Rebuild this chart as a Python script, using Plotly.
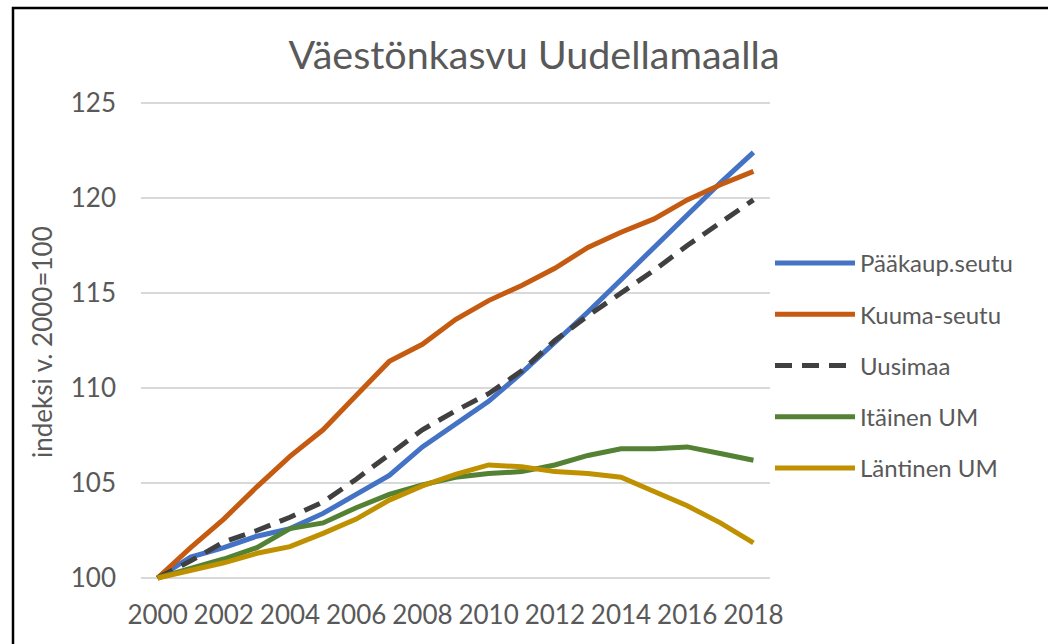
import plotly.graph_objects as go

years = list(range(2000, 2019))
paakaup = [100, 101.1, 101.6, 102.2, 102.6, 103.4, 104.4, 105.4, 106.9, 108.1,
           109.3, 110.8, 112.4, 114.0, 115.7, 117.4, 119.1, 120.8, 122.4]
kuuma = [100, 101.6, 103.1, 104.8, 106.4, 107.8, 109.6, 111.4, 112.3, 113.6,
         114.6, 115.4, 116.3, 117.4, 118.2, 118.9, 119.9, 120.7, 121.4]
uusimaa = [100, 100.9, 101.9, 102.5, 103.2, 104.0, 105.2, 106.5, 107.8, 108.8,
           109.7, 110.9, 112.5, 113.8, 115.0, 116.2, 117.5, 118.7, 119.9]
itainen = [100, 100.5, 101.0, 101.6, 102.6, 102.9, 103.7, 104.4, 104.9, 105.3,
           105.5, 105.6, 105.95, 106.45, 106.8, 106.8, 106.9, 106.55, 106.2]
lantinen = [100, 100.4, 100.8, 101.3, 101.65, 102.35, 103.1, 104.1, 104.85, 105.45,
            105.95, 105.85, 105.6, 105.5, 105.3, 104.55, 103.8, 102.9, 101.85]

series_names = ["Pääkaup.seutu", "Kuuma-seutu", "Uusimaa", "Itäinen UM", "Läntinen UM"]
series_values = [paakaup, kuuma, uusimaa, itainen, lantinen]
colors = ["#4472C4", "#C55A11", "#404040", "#548235", "#BF9000"]
dashes = ["solid", "solid", "17px,10px", "solid", "solid"]

x_ticks = list(range(2000, 2019, 2))
y_ticks = [100, 105, 110, 115, 120, 125]

title_text = "Väestönkasvu Uudellamaalla"
y_title = "indeksi v. 2000=100"

W, H = 1048, 644
L, R = 141, 770
T, B = 84, 597
FONT = "Lato, Calibri, Carlito, sans-serif"
GREY = "#595959"


def px_x(p):
    return (p - L) / (R - L)


def px_y(p):
    return (B - p) / (B - T)


fig = go.Figure()
for i, (name, vals) in enumerate(zip(series_names, series_values)):
    fig.add_trace(go.Scatter(
        x=years, y=vals, name=name, mode="lines",
        line=dict(color=colors[i], width=5, dash=dashes[i]),
        legendgroup=name,
    ))

fig.update_layout(
    width=W, height=H,
    margin=dict(l=L, r=W - R, t=T, b=H - B, pad=0),
    paper_bgcolor="white", plot_bgcolor="white",
    font=dict(family=FONT, color=GREY),
    title=dict(text=title_text, x=534 / W, xanchor="center",
               y=1 - 55 / H, yanchor="middle",
               font=dict(size=39.5, color=GREY, family=FONT)),
    xaxis=dict(range=[1999.5, 2018.5], tickvals=x_ticks, showgrid=False,
               zeroline=False, showline=False, ticks="",
               tickfont=dict(size=26, color=GREY), ticklabelstandoff=0),
    yaxis=dict(range=[99, 126], tickvals=y_ticks, showgrid=True,
               gridcolor="#D9D9D9", gridwidth=1.5, zeroline=False,
               showline=False, ticks="",
               tickfont=dict(size=26, color=GREY), ticklabelstandoff=24),
    legend=dict(x=px_x(770), xanchor="left", y=px_y(241), yanchor="top",
                font=dict(size=24, color=GREY), itemwidth=80,
                tracegroupgap=17, bgcolor="rgba(0,0,0,0)"),
    showlegend=True,
)

fig.add_annotation(text=y_title, xref="paper", yref="paper",
                   x=px_x(42), y=px_y(342), xanchor="center", yanchor="middle",
                   textangle=-90, showarrow=False,
                   font=dict(size=26, color=GREY, family=FONT))

fig.add_shape(type="rect", xref="paper", yref="paper",
              x0=px_x(13), x1=px_x(1070), y0=px_y(680), y1=px_y(8),
              line=dict(color="black", width=2.5), fillcolor="rgba(0,0,0,0)",
              layer="above")

fig.write_html("out.html", config={"displayModeBar": False},
               post_script="document.body.style.margin='0px';document.body.style.padding='0px';")
